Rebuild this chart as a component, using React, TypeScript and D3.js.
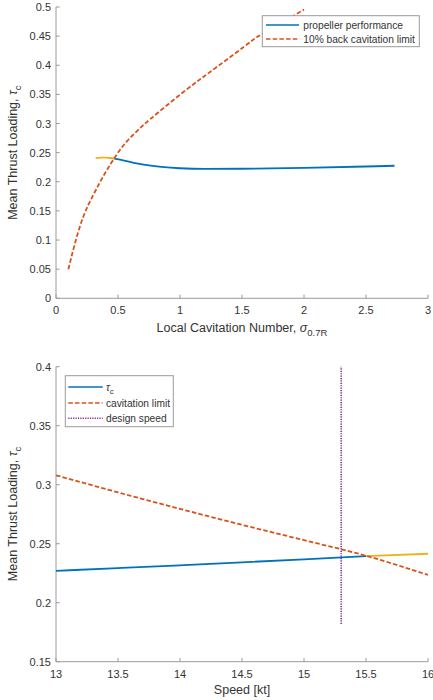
import React from "react";
import * as d3 from "d3";

// Thrust loading versus local cavitation number
const sigmaLimit = [0.1, 0.15, 0.22, 0.3, 0.38, 0.47, 0.57, 0.68, 0.76, 1.03, 1.3, 1.57, 1.67, 2.0];
const tauLimit = [0.05, 0.092, 0.14, 0.177, 0.209, 0.2405, 0.269, 0.2925, 0.3075, 0.3545, 0.3975, 0.4405, 0.4545, 0.4955];
const sigmaProp = [0.47, 0.55, 0.65, 0.75, 0.85, 1.0, 1.2, 1.5, 2.0, 2.5, 2.73];
const tauProp = [0.2398, 0.2365, 0.2315, 0.228, 0.2255, 0.2232, 0.2222, 0.2224, 0.2238, 0.2262, 0.2275];
const sigmaCav = [0.32, 0.36, 0.4, 0.44, 0.47];
const tauCav = [0.2405, 0.2413, 0.2413, 0.2408, 0.2398];
const sigmaTicks = [0, 0.5, 1, 1.5, 2, 2.5, 3];
const tauTicksTop = [0, 0.05, 0.1, 0.15, 0.2, 0.25, 0.3, 0.35, 0.4, 0.45, 0.5];

// Thrust loading versus ship speed
const speed = [13, 13.5, 14, 14.5, 15, 15.5];
const tauSpeed = [0.227, 0.2293, 0.2317, 0.2342, 0.2368, 0.2395];
const speedCav = [15.5, 16];
const tauSpeedCav = [0.2395, 0.2415];
const speedLimit = [13, 13.5, 14, 14.5, 15, 15.5, 16];
const tauSpeedLimit = [0.308, 0.2935, 0.2795, 0.266, 0.253, 0.2398, 0.2235];
const designSpeed = 15.3;
const designTau = [0.182, 0.4];
const speedTicks = [13, 13.5, 14, 14.5, 15, 15.5, 16];
const tauTicksBottom = [0.15, 0.2, 0.25, 0.3, 0.35, 0.4];

const BLUE = "#0072BD";
const ORANGE = "#D95319";
const YELLOW = "#EDB120";
const PURPLE = "#7E2F8E";
const AXIS = "#9a9a9a";
const TEXT = "#333333";
const FONT = "'Liberation Sans', Arial, sans-serif";

const fmt = (v: number) => String(+v.toFixed(2));

type XY = [number, number];
const zip = (xs: number[], ys: number[]): XY[] => xs.map((x, i) => [x, ys[i]]);

function Axes({ x, y, xTicks, yTicks }: { x: d3.ScaleLinear<number, number>; y: d3.ScaleLinear<number, number>; xTicks: number[]; yTicks: number[] }) {
  const [x0, x1] = x.range();
  const [y0, y1] = y.range();
  const tl = 3.7;
  return (
    <g>
      <line x1={x0} x2={x1} y1={y0} y2={y0} stroke={AXIS} strokeWidth={1} />
      <line x1={x0} x2={x0} y1={y0} y2={y1} stroke={AXIS} strokeWidth={1} />
      {xTicks.map((t) => (
        <g key={"x" + t}>
          <line x1={x(t)} x2={x(t)} y1={y0} y2={y0 - tl} stroke={AXIS} />
          <text x={x(t)} y={y0 + 16} textAnchor="middle" fontSize={11} fill={TEXT} fontFamily={FONT}>
            {fmt(t)}
          </text>
        </g>
      ))}
      {yTicks.map((t) => (
        <g key={"y" + t}>
          <line x1={x0} x2={x0 + tl} y1={y(t)} y2={y(t)} stroke={AXIS} />
          <text x={x0 - 5} y={y(t) + 4} textAnchor="end" fontSize={11} fill={TEXT} fontFamily={FONT}>
            {fmt(t)}
          </text>
        </g>
      ))}
    </g>
  );
}

function YLabel({ cx, cy }: { cx: number; cy: number }) {
  return (
    <text transform={`translate(${cx},${cy}) rotate(-90)`} textAnchor="middle" fontSize={12.5} fill={TEXT} fontFamily={FONT}>
      Mean Thrust Loading, <tspan fontStyle="italic">τ</tspan>
      <tspan fontSize={9.5} dy={4}>c</tspan>
    </text>
  );
}

export default function App() {
  // top panel
  const xT = d3.scaleLinear().domain([0, 3]).range([56, 428]);
  const yT = d3.scaleLinear().domain([0, 0.5]).range([298.3, 7]);
  const lT = d3.line<XY>().curve(d3.curveMonotoneX).x((d) => xT(d[0])).y((d) => yT(d[1]));
  const lTsmooth = d3.line<XY>().curve(d3.curveNatural).x((d) => xT(d[0])).y((d) => yT(d[1]));
  const topProp = lT(zip(sigmaProp, tauProp)) || "";
  const topCav = lT(zip(sigmaCav, tauCav)) || "";
  const topLim = lTsmooth(zip(sigmaLimit, tauLimit)) || "";

  // bottom panel
  const xB = d3.scaleLinear().domain([13, 16]).range([56, 428]);
  const yB = d3.scaleLinear().domain([0.15, 0.4]).range([661.7, 366.7]);
  const lB = d3.line<XY>().curve(d3.curveMonotoneX).x((d) => xB(d[0])).y((d) => yB(d[1]));
  const botProp = lB(zip(speed, tauSpeed)) || "";
  const botCav = lB(zip(speedCav, tauSpeedCav)) || "";
  const botLim = lB(zip(speedLimit, tauSpeedLimit)) || "";

  return (
    <svg width={433} height={700} style={{ position: "absolute", left: 0, top: 0, background: "#fff" }}>
      {/* top panel */}
      <Axes x={xT} y={yT} xTicks={sigmaTicks} yTicks={tauTicksTop} />
      <path d={topProp} fill="none" stroke={BLUE} strokeWidth={1.8} />
      <path d={topCav} fill="none" stroke={YELLOW} strokeWidth={1.8} />
      <path d={topLim} fill="none" stroke={ORANGE} strokeWidth={1.8} strokeDasharray="4.5,2.2" />
      <text x={242} y={332} textAnchor="middle" fontSize={12.5} fill={TEXT} fontFamily={FONT}>
        Local Cavitation Number, <tspan fontStyle="italic">σ</tspan>
        <tspan fontSize={9.5} dy={4}>0.7R</tspan>
      </text>
      <YLabel cx={17} cy={152.7} />
      <g>
        <rect x={262.3} y={15.7} width={157} height={31} fill="#fff" stroke="#9a9a9a" strokeWidth={1} />
        <line x1={266} x2={299} y1={25} y2={25} stroke={BLUE} strokeWidth={1.6} />
        <text x={303.3} y={28.6} fontSize={10.2} fill={TEXT} fontFamily={FONT}>propeller performance</text>
        <line x1={266} x2={299} y1={39} y2={39} stroke={ORANGE} strokeWidth={1.6} strokeDasharray="4.5,2.2" />
        <text x={303.3} y={42.6} fontSize={10.2} fill={TEXT} fontFamily={FONT}>10% back cavitation limit</text>
      </g>

      {/* bottom panel */}
      <Axes x={xB} y={yB} xTicks={speedTicks} yTicks={tauTicksBottom} />
      <path d={botProp} fill="none" stroke={BLUE} strokeWidth={1.8} />
      <path d={botCav} fill="none" stroke={YELLOW} strokeWidth={1.8} />
      <path d={botLim} fill="none" stroke={ORANGE} strokeWidth={1.8} strokeDasharray="4.5,2.2" />
      <line x1={xB(designSpeed)} x2={xB(designSpeed)} y1={yB(designTau[0])} y2={yB(designTau[1])} stroke={PURPLE} strokeWidth={1.6} strokeDasharray="1.2,1.2" />
      <text x={242} y={694} textAnchor="middle" fontSize={12.5} fill={TEXT} fontFamily={FONT}>Speed [kt]</text>
      <YLabel cx={17} cy={514} />
      <g>
        <rect x={65.3} y={375.7} width={108} height={51} fill="#fff" stroke="#9a9a9a" strokeWidth={1} />
        <line x1={68.3} x2={102.7} y1={387} y2={387} stroke={BLUE} strokeWidth={1.6} />
        <text x={106} y={390.6} fontSize={10.2} fill={TEXT} fontFamily={FONT}>
          <tspan fontStyle="italic">τ</tspan>
          <tspan fontSize={8} dy={3}>c</tspan>
        </text>
        <line x1={68.3} x2={102.7} y1={403} y2={403} stroke={ORANGE} strokeWidth={1.6} strokeDasharray="4.5,2.2" />
        <text x={106} y={406.6} fontSize={10.2} fill={TEXT} fontFamily={FONT}>cavitation limit</text>
        <line x1={68.3} x2={102.7} y1={418.3} y2={418.3} stroke={PURPLE} strokeWidth={1.6} strokeDasharray="1.2,1.2" />
        <text x={106} y={421.9} fontSize={10.2} fill={TEXT} fontFamily={FONT}>design speed</text>
      </g>
    </svg>
  );
}
